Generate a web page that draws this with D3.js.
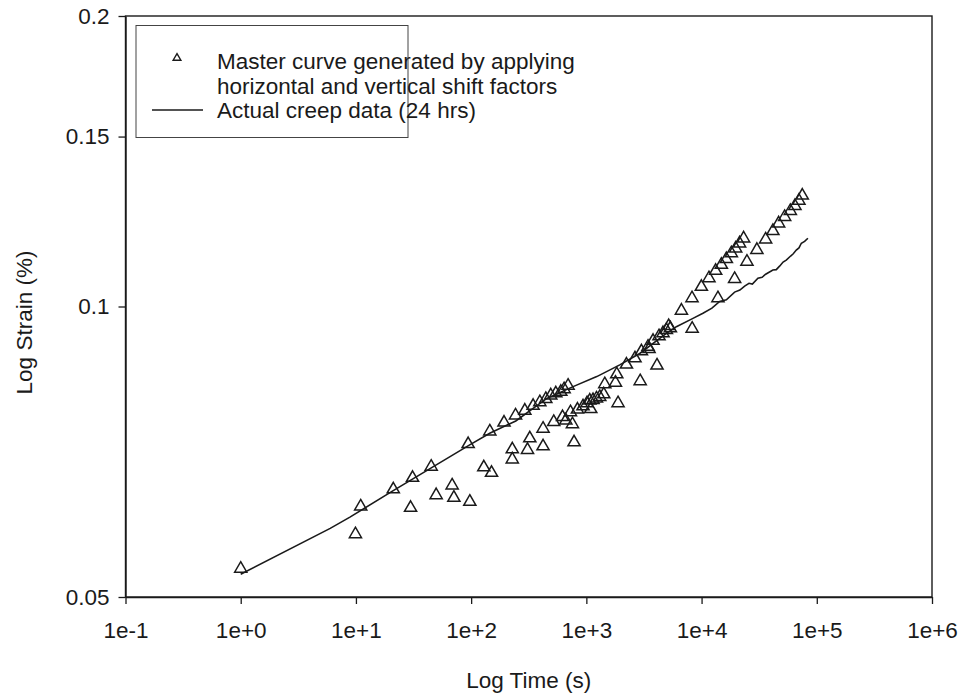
<!DOCTYPE html>
<html>
<head>
<meta charset="utf-8">
<script src="https://cdn.jsdelivr.net/npm/d3@7"></script>
<style>
  html, body { margin: 0; padding: 0; background: #fff; }
  svg { display: block; }
  text { font-family: "Liberation Sans", Arial, Helvetica, sans-serif; fill: #1a1a1a; }
</style>
</head>
<body>
<svg id="chart" width="961" height="696"></svg>
<script>
// ---- data ----
const masterTime = [1, 9.9, 11.0, 21.1, 29.8, 31.0, 45.0, 49.7, 68.4, 70.8, 94.2, 97.4, 128.8, 145.2, 150.3,
  192.9, 227.6, 227.6, 242.7, 292.3, 308.4, 323, 345, 394.5, 421, 421, 444.6, 491, 521, 543, 600, 621, 641,
  663, 694, 728, 757, 782, 837, 936, 1013, 1071, 1092, 1143, 1224, 1307, 1416, 1445, 1788, 1836, 1884, 2228,
  2644, 2933, 3006, 3429, 3500, 3792, 4104, 4272, 4626, 4953, 5185, 5361, 6683, 8285, 8260, 9960, 11590,
  13250, 13870, 14850, 16410, 18130, 19360, 19760, 21380, 23170, 24760, 30200, 35970, 41590, 46650, 52600,
  58930, 64600, 69970, 74850];
const masterStrain = [0.0537, 0.0583, 0.0623, 0.0649, 0.0621, 0.0667, 0.0685, 0.0640, 0.0655, 0.0636, 0.0723,
  0.0630, 0.0684, 0.0745, 0.0675, 0.0761, 0.0714, 0.0697, 0.0774, 0.0783, 0.0713, 0.0733, 0.0792, 0.0799,
  0.0719, 0.0750, 0.0805, 0.0812, 0.0762, 0.0816, 0.0819, 0.0771, 0.0824, 0.0765, 0.0831, 0.0780, 0.0758,
  0.0726, 0.0785, 0.0791, 0.0797, 0.0802, 0.0786, 0.0803, 0.0806, 0.0809, 0.0814, 0.0834, 0.0837, 0.0854,
  0.0797, 0.0874, 0.0887, 0.0840, 0.0902, 0.0912, 0.0907, 0.0925, 0.0872, 0.0935, 0.0942, 0.0949, 0.0958,
  0.0953, 0.0994, 0.0952, 0.1024, 0.1052, 0.1074, 0.1093, 0.1024, 0.1109, 0.1124, 0.1140, 0.1072, 0.1153,
  0.1167, 0.1181, 0.1117, 0.1149, 0.1178, 0.1202, 0.1224, 0.1243, 0.1261, 0.1276, 0.1292, 0.1308];

const creepTime = [1, 5.98, 8.87, 20.9, 44.7, 95.5, 145, 244, 454, 767, 1231, 1950, 2904, 4950, 6045, 8420,
  10280, 12300, 14360, 16410, 19360, 21500, 23660, 25800, 27600, 30830, 33500, 36000, 41590, 44500, 47540,
  51000, 54330, 59290, 62500, 66370, 70000, 73450, 78400, 83750];
const creepStrain = [0.0528, 0.0589, 0.0605, 0.0644, 0.0680, 0.0718, 0.0739, 0.0761, 0.0803, 0.0826, 0.0846,
  0.0870, 0.0894, 0.0938, 0.0953, 0.0972, 0.0984, 0.0996, 0.1012, 0.1016, 0.1035, 0.1040, 0.1050, 0.1057,
  0.1055, 0.1070, 0.1072, 0.1080, 0.1091, 0.1092, 0.1101, 0.1112, 0.1117, 0.1128, 0.1134, 0.1144, 0.1150,
  0.1163, 0.1168, 0.1177];

const xTicks = [0.1, 1, 10, 100, 1000, 10000, 100000, 1000000];
const xTickLabels = ["1e-1", "1e+0", "1e+1", "1e+2", "1e+3", "1e+4", "1e+5", "1e+6"];
const yTicks = [0.05, 0.1, 0.15, 0.2];
const yTickLabels = ["0.05", "0.1", "0.15", "0.2"];

const legendLabels = ["Master curve generated by applying", "horizontal and vertical shift factors",
  "Actual creep data (24 hrs)"];
const xTitle = "Log Time (s)";
const yTitle = "Log Strain (%)";

// ---- layout ----
const L = 125.5, R = 932, T = 16, B = 597;
const FS = 22.5;
const ink = "#1a1a1a";

const svg = d3.select("#chart");
const x = d3.scaleLog().domain([0.1, 1e6]).range([L, R]);
const y = d3.scaleLog().domain([0.05, 0.2]).range([B, T]);

// frame
svg.append("rect").attr("x", L).attr("y", T).attr("width", R - L).attr("height", B - T)
  .attr("fill", "none").attr("stroke", ink).attr("stroke-width", 1.4);

// axes
const xAxis = d3.axisBottom(x).tickValues(xTicks).tickFormat((d, i) => xTickLabels[i])
  .tickSizeInner(7).tickSizeOuter(0).tickPadding(18);
const gx = svg.append("g").attr("transform", `translate(0,${B})`).call(xAxis);
gx.select(".domain").attr("stroke", ink).attr("stroke-width", 1.4);
gx.selectAll(".tick line").attr("stroke", ink).attr("stroke-width", 1.3);
gx.selectAll(".tick text").attr("font-size", FS).attr("fill", ink)
  .style("font-family", "'Liberation Sans', Arial, sans-serif");

const yAxis = d3.axisLeft(y).tickValues(yTicks).tickFormat((d, i) => yTickLabels[i])
  .tickSizeInner(7).tickSizeOuter(0).tickPadding(9);
const gy = svg.append("g").attr("transform", `translate(${L},0)`).call(yAxis);
gy.select(".domain").attr("stroke", ink).attr("stroke-width", 1.4);
gy.selectAll(".tick line").attr("stroke", ink).attr("stroke-width", 1.3);
gy.selectAll(".tick text").attr("font-size", FS).attr("fill", ink)
  .style("font-family", "'Liberation Sans', Arial, sans-serif");

// titles
svg.append("text").attr("x", (L + R) / 2).attr("y", 688).attr("text-anchor", "middle")
  .attr("font-size", FS).text(xTitle);
svg.append("text").attr("transform", `translate(32,${(T + B) / 2 + 16}) rotate(-90)`)
  .attr("text-anchor", "middle").attr("font-size", FS).text(yTitle);

// creep line
const line = d3.line().x((d, i) => x(creepTime[i])).y((d, i) => y(creepStrain[i]));
svg.append("path").datum(creepTime).attr("d", line)
  .attr("fill", "none").attr("stroke", ink).attr("stroke-width", 1.6);

// master curve triangles
const tri = d3.symbol().type(d3.symbolTriangle).size(64);
svg.append("g").selectAll("path").data(masterTime).join("path")
  .attr("d", tri)
  .attr("transform", (d, i) => `translate(${x(d)},${y(masterStrain[i]) + 1.6})`)
  .attr("fill", "none").attr("stroke", ink).attr("stroke-width", 1.5);

// legend
const lg = svg.append("g");
lg.append("rect").attr("x", 136).attr("y", 25.5).attr("width", 272).attr("height", 112)
  .attr("fill", "#fff").attr("stroke", "#444").attr("stroke-width", 1);
lg.append("path").attr("d", d3.symbol().type(d3.symbolTriangle).size(26)())
  .attr("transform", "translate(177,58)").attr("fill", "none").attr("stroke", ink).attr("stroke-width", 1.4);
lg.append("line").attr("x1", 152).attr("x2", 203).attr("y1", 110).attr("y2", 110)
  .attr("stroke", ink).attr("stroke-width", 1.6);
lg.selectAll("text.lbl").data(legendLabels).join("text").attr("class", "lbl")
  .attr("x", 217).attr("y", (d, i) => 69 + i * 24.5).attr("font-size", FS).text(d => d);
</script>
</body>
</html>
